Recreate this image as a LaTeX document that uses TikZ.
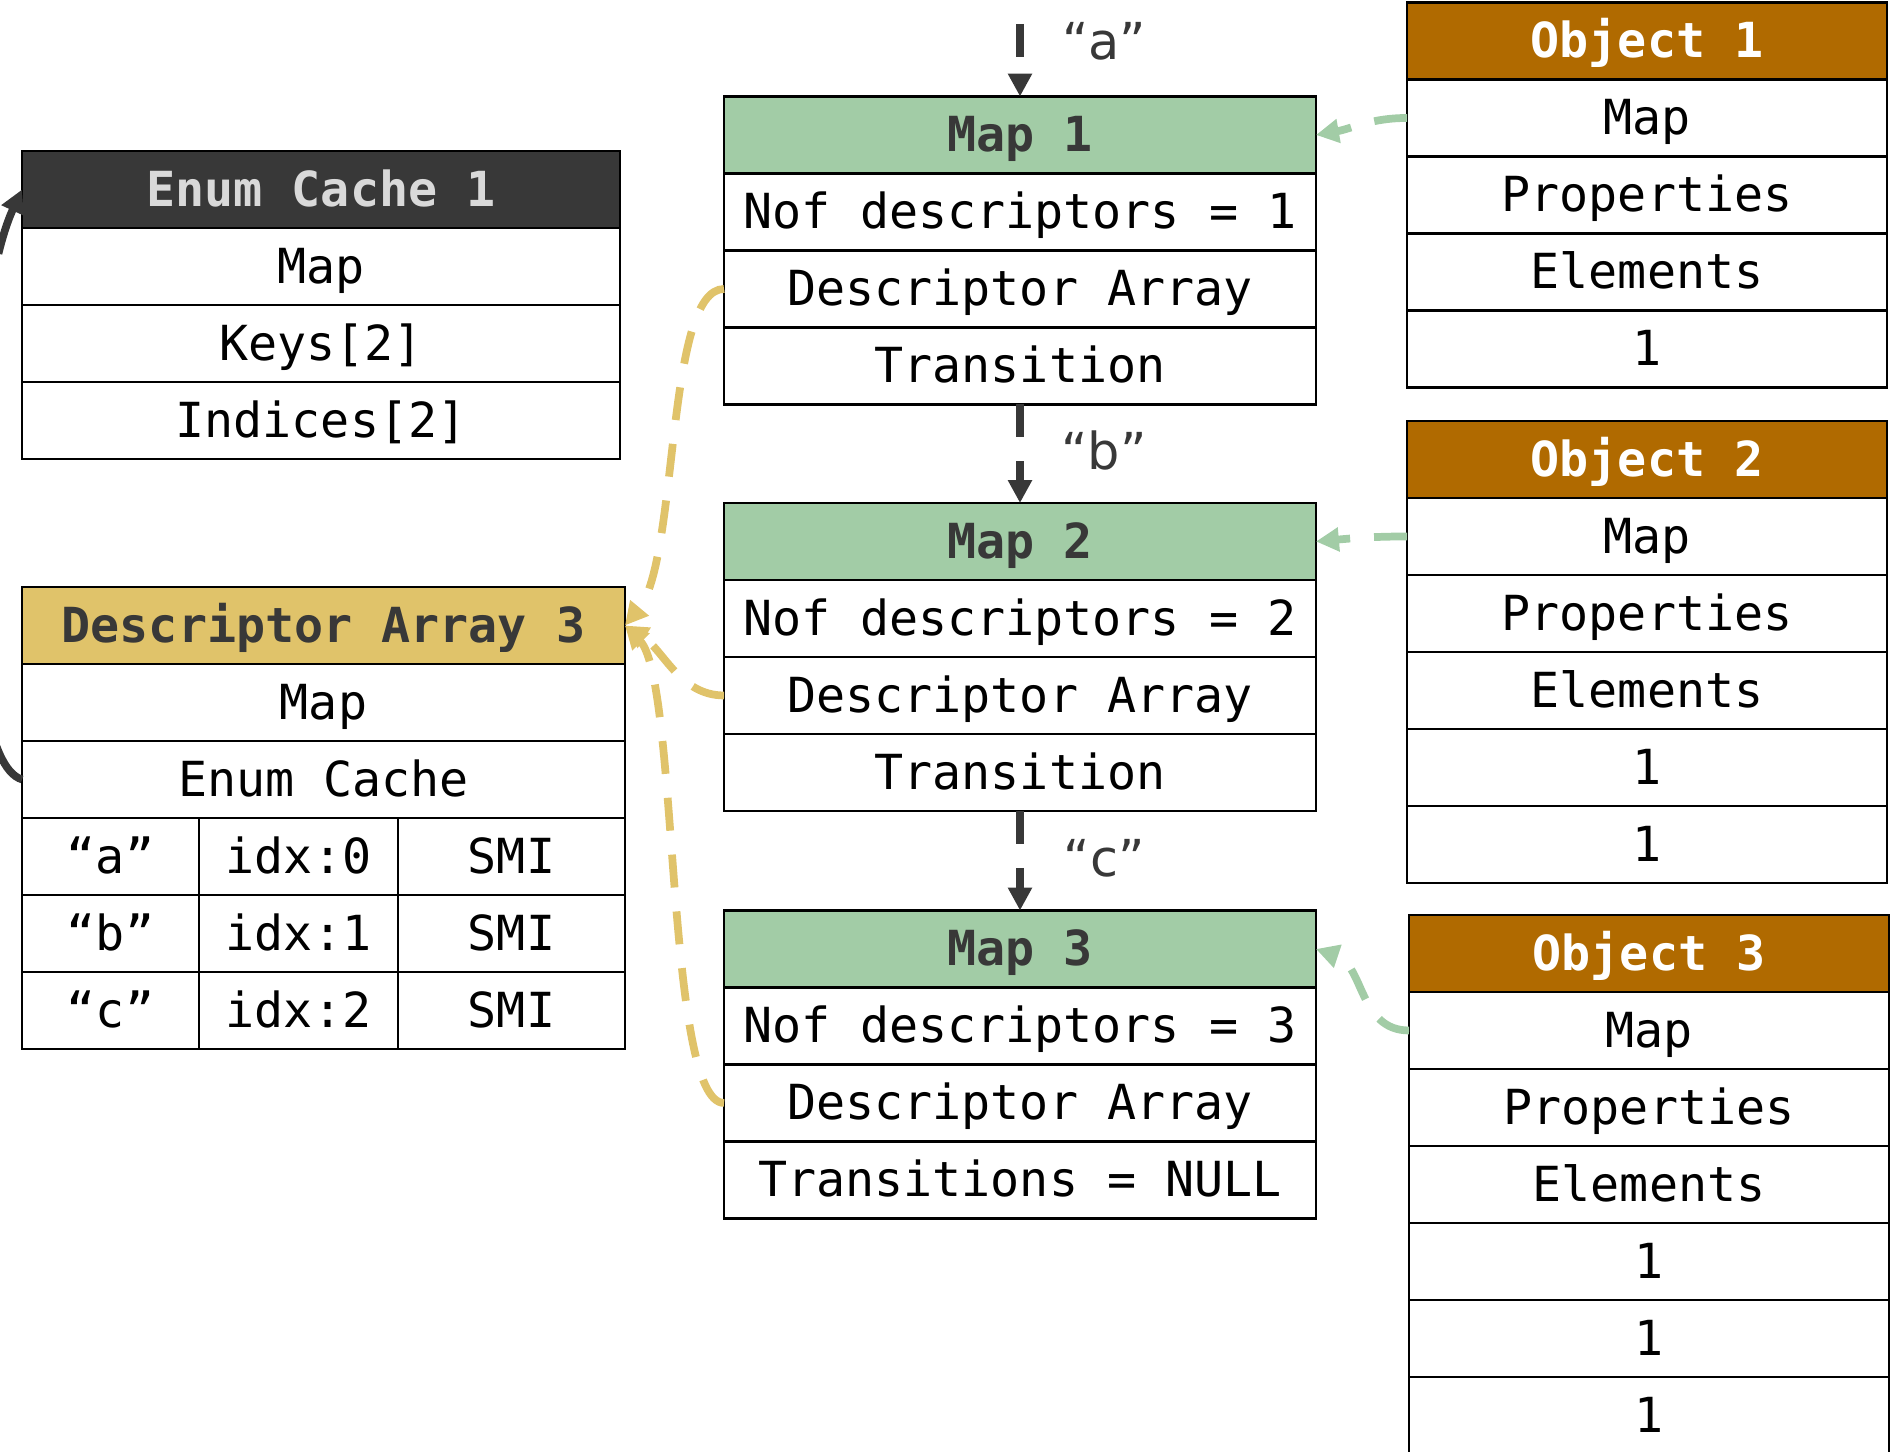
\documentclass[tikz,border=0pt]{standalone}
\usepackage{fontspec}
\newfontfamily\monofont{DejaVu Sans Mono}
\newfontfamily\labelfont{DejaVu Sans}
\usetikzlibrary{positioning}
\usetikzlibrary{arrows.meta}
\definecolor{mapgreen}{HTML}{A2CCA6}
\definecolor{objorange}{HTML}{B06A00}
\definecolor{descyellow}{HTML}{E0C36A}
\definecolor{inkgray}{HTML}{383838}
\definecolor{enumtext}{HTML}{D9D9D9}

\begin{document}
\begin{tikzpicture}[x=0.02cm, y=-0.02cm,
    row/.style={draw, line width=1.5pt, inner sep=0pt, outer sep=0pt, minimum height=1.54cm,
        text height=0.9cm, text depth=0.22cm, font={\fontsize{27.5}{32}\monofont}},
    hdr/.style={row, font={\fontsize{27.5}{32}\monofont\bfseries}},
    mapbox/.style={row, minimum width=11.84cm},
    objbox/.style={row, minimum width=9.6cm},
    link/.style={line width=4.4pt, dash pattern=on 0.66cm off 0.48cm, -{Triangle[length=0.46cm,width=0.46cm]}},
    tag/.style={inner sep=0pt, text height=0.9cm, text depth=0.22cm, text=inkgray, font={\fontsize{29}{34}\labelfont}}]
        \useasboundingbox (0,0) rectangle (1891,1452);

        % maps
        \foreach \i/\y/\t in {1/135/Transition, 2/541.5/Transition, 3/949/Transitions = NULL} {
            \node[mapbox, hdr, fill=mapgreen, text=inkgray] (map\i) at (1020,\y) {Map \i};
            \node[mapbox, below=0pt of map\i] (nof\i) {Nof descriptors = \i};
            \node[mapbox, below=0pt of nof\i] (desc\i) {Descriptor Array};
            \node[mapbox, below=0pt of desc\i] (trans\i) {\t};
        }

        % objects
        \foreach \i/\x/\y in {1/1647/41, 2/1647/459.5, 3/1649/953.5} {
            \node[objbox, hdr, fill=objorange, text=white] (obj\i) at (\x,\y) {Object \i};
            \node[objbox, below=0pt of obj\i] (omap\i) {Map};
            \node[objbox, below=0pt of omap\i] (oprop\i) {Properties};
            \node[objbox, below=0pt of oprop\i] (oelem\i) {Elements};
        }
        \node[objbox, below=0pt of oelem1] (oval1a) {1};
        \node[objbox, below=0pt of oelem2] (oval2a) {1};
        \node[objbox, below=0pt of oval2a] (oval2b) {1};
        \node[objbox, below=0pt of oelem3] (oval3a) {1};
        \node[objbox, below=0pt of oval3a] (oval3b) {1};
        \node[objbox, below=0pt of oval3b] (oval3c) {1};

        % enum cache
        \node[row, hdr, minimum width=11.96cm, fill=inkgray, text=enumtext] (enum) at (321,189.5) {Enum Cache 1};
        \node[row, minimum width=11.96cm, below=0pt of enum] (emap) {Map};
        \node[row, minimum width=11.96cm, below=0pt of emap] (ekeys) {Keys[2]};
        \node[row, minimum width=11.96cm, below=0pt of ekeys] (eidx) {Indices[2]};

        % descriptor array
        \node[row, hdr, minimum width=12.06cm, fill=descyellow, text=inkgray] (da) at (323.5,625.5) {Descriptor Array 3};
        \node[row, minimum width=12.06cm, below=0pt of da] (damap) {Map};
        \node[row, minimum width=12.06cm, below=0pt of damap] (daenum) {Enum Cache};
        \node[row, minimum width=3.54cm, anchor=north west] (keya) at (daenum.south west) {“a”};
        \node[row, minimum width=3.98cm, right=0pt of keya] (idxa) {idx:0};
        \node[row, minimum width=4.54cm, right=0pt of idxa] (smia) {SMI};
        \foreach \k/\p/\n in {b/a/1, c/b/2} {
            \node[row, minimum width=3.54cm, below=0pt of key\p] (key\k) {“\k”};
            \node[row, minimum width=3.98cm, right=0pt of key\k] (idx\k) {idx:\n};
            \node[row, minimum width=4.54cm, right=0pt of idx\k] (smi\k) {SMI};
        }

        % transitions
        \coordinate (start) at (1020,24);
        \draw[link, inkgray] (start) -- (map1.north);
        \draw[link, inkgray] (trans1.south) -- (map2.north);
        \draw[link, inkgray] (trans2.south) -- (map3.north);
        \node[tag] (qa) at (1104,43) {“a”};
        \node[tag] (qb) at (1104,453) {“b”};
        \node[tag] (qc) at (1104,860) {“c”};

        % object -> map
        \draw[link, mapgreen] (omap1.west) to[out=180,in=10] (map1.east);
        \draw[link, mapgreen] (omap2.west) to[out=180,in=5] (map2.east);
        \draw[link, mapgreen] (omap3.west) .. controls +(-50,0) and +(48,16) .. (map3.east);

        % map -> descriptors
        \draw[link, descyellow] (desc1.west) .. controls +(-59,0) and +(54,-65) .. (da.east);
        \draw[link, descyellow] (desc2.west) .. controls +(-44,0) and +(39,25) .. (da.east);
        \draw[link, descyellow] (desc3.west) .. controls +(-59,0) and +(54,55) .. (da.east);

        \draw[link, inkgray, dash pattern=on 1.3cm off 0.5cm] (daenum.west) .. controls +(-70,-20) and +(-60,130) .. (enum.west);
    \end{tikzpicture}
\end{document}
